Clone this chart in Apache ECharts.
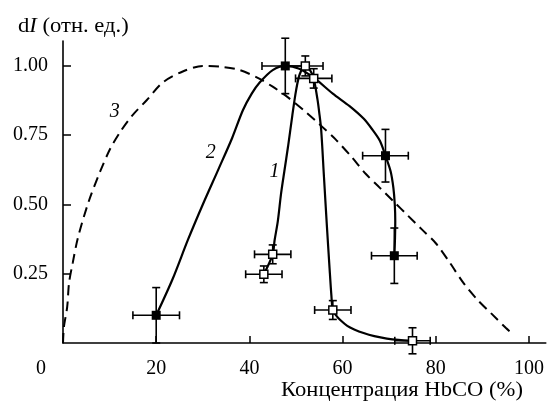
<!DOCTYPE html>
<html>
<head>
<meta charset="utf-8">
<script src="https://cdn.jsdelivr.net/npm/echarts@6/dist/echarts.min.js"></script>
<style>
  html, body { margin: 0; padding: 0; background: #fff; }
  #chart { width: 547px; height: 403px; }
</style>
</head>
<body>
<div id="chart"></div>
<script>
// Axis ticks
const xTicks = [0, 20, 40, 60, 80, 100];
const yTicks = [0.25, 0.5, 0.75, 1.0];

// Curve 1 (fit through open squares)
const curve1X = [43.1, 45.0, 45.4, 46.1, 46.8, 47.5, 48.3, 49.2, 50.0, 50.8, 52.0, 53.0, 53.8, 54.6, 55.0, 55.4, 56.0, 56.6, 57.2, 57.6, 57.9, 58.6, 59.5, 61.0, 62.5, 64.5, 66.8, 69.5, 72.0, 75.0];
const curve1Y = [0.248, 0.32, 0.37, 0.44, 0.54, 0.62, 0.71, 0.82, 0.91, 0.97, 1.0, 0.985, 0.955, 0.88, 0.83, 0.77, 0.6, 0.43, 0.27, 0.17, 0.119, 0.1, 0.083, 0.062, 0.049, 0.036, 0.025, 0.016, 0.011, 0.008];

// Curve 2 (fit through filled squares)
const curve2X = [20, 23.5, 26.8, 30, 33.3, 36.3, 38.6, 40.5, 42.2, 45, 47.7, 50.7, 54, 57.9, 61.5, 64.5, 66.4, 68, 69.2, 70.3, 70.9, 71.2, 71.3, 71.25, 71.1];
const curve2Y = [0.1, 0.23, 0.372, 0.5, 0.625, 0.74, 0.84, 0.9, 0.94, 0.985, 1.0, 0.99, 0.955, 0.9, 0.855, 0.81, 0.77, 0.73, 0.676, 0.62, 0.56, 0.5, 0.44, 0.38, 0.315];

// Curve 3 (dashed)
const curve3X = [0, 0.2, 0.9, 1.3, 2.1, 3.2, 5.5, 8, 10.1, 12.2, 14.8, 18, 21.4, 25.7, 30, 34, 38, 42, 45, 48, 52, 55, 58.5, 62, 65, 68, 71, 74, 77, 80, 83, 86, 89, 92, 95, 96];
const curve3Y = [0, 0.058, 0.13, 0.217, 0.29, 0.38, 0.51, 0.62, 0.70, 0.76, 0.82, 0.877, 0.94, 0.98, 1.0, 0.997, 0.985, 0.955, 0.925, 0.89, 0.835, 0.79, 0.735, 0.67, 0.61, 0.56, 0.51, 0.46, 0.41, 0.36, 0.29, 0.215, 0.155, 0.105, 0.055, 0.04];

// Measured points: filled squares
const filledX = [20, 47.7, 69.2, 71.1];
const filledY = [0.1, 1.0, 0.676, 0.315];
const filledXErr = [5, 5, 4.9, 4.9];
const filledYErr = [0.1, 0.1, 0.095, 0.1];

// Measured points: open squares
const openX = [43.1, 45.0, 52.0, 53.8, 57.9, 75.0];
const openY = [0.248, 0.32, 1.0, 0.955, 0.119, 0.008];
const openXErr = [3.9, 3.9, 3.8, 3.9, 3.9, 3.8];
const openYErr = [0.03, 0.034, 0.036, 0.035, 0.034, 0.047];

// Curve number labels
const curveNames = ['1', '2', '3'];
const curveNameX = [45.4, 31.7, 11.1];
const curveNameY = [0.617, 0.686, 0.834];

const FONT = '"Liberation Serif", "Times New Roman", serif';
const zip = (xs, ys) => xs.map((x, i) => [x, ys[i]]);

function errorBars(xs, ys, exs, eys) {
  return xs.map((x, i) => [x, ys[i], exs[i], eys[i]]);
}

function renderErr(params, api) {
  const x = api.value(0), y = api.value(1), ex = api.value(2), ey = api.value(3);
  const l = api.coord([x - ex, y]);
  const r = api.coord([x + ex, y]);
  const t = api.coord([x, y + ey]);
  const b = api.coord([x, y - ey]);
  const cap = 4;
  const style = { stroke: '#000', lineWidth: 1.6 };
  const line = (x1, y1, x2, y2) => ({ type: 'line', shape: { x1, y1, x2, y2 }, style });
  return {
    type: 'group',
    children: [
      line(l[0], l[1], r[0], r[1]),
      line(l[0], l[1] - cap, l[0], l[1] + cap),
      line(r[0], r[1] - cap, r[0], r[1] + cap),
      line(t[0], t[1], b[0], b[1]),
      line(t[0] - cap, t[1], t[0] + cap, t[1]),
      line(b[0] - cap, b[1], b[0] + cap, b[1])
    ]
  };
}

const chart = echarts.init(document.getElementById('chart'), null, { renderer: 'canvas' });

chart.setOption({
  animation: false,
  backgroundColor: '#fff',
  grid: { left: 63, right: 0, top: 41, bottom: 60, containLabel: false },
  xAxis: {
    type: 'value',
    min: 0,
    max: 103.6,
    axisLine: { show: true, onZero: false, lineStyle: { color: '#000', width: 1.6 } },
    axisTick: { show: true, inside: true, length: 7, customValues: xTicks.slice(1), lineStyle: { color: '#000', width: 1.5 } },
    axisLabel: {
      show: true,
      customValues: xTicks,
      margin: 16,
      color: '#000',
      fontFamily: FONT,
      fontSize: 20,
      formatter: v => (v === 0 ? '{z|0}' : String(v)),
      rich: { z: { fontFamily: FONT, fontSize: 20, color: '#000', padding: [0, 44, 0, 0] } }
    },
    splitLine: { show: false }
  },
  yAxis: {
    type: 'value',
    min: 0,
    max: 1.09,
    axisLine: { show: true, onZero: false, lineStyle: { color: '#000', width: 1.6 } },
    axisTick: { show: true, inside: true, length: 8, customValues: yTicks, lineStyle: { color: '#000', width: 1.5 } },
    axisLabel: {
      show: true,
      customValues: yTicks,
      margin: 15,
      color: '#000',
      fontFamily: FONT,
      fontSize: 20,
      formatter: v => v.toFixed(2)
    },
    splitLine: { show: false }
  },
  graphic: [
    {
      type: 'text',
      x: 18,
      y: 27,
      scaleX: 1.13,
      style: {
        text: '{a|d}{b|I}{a| (отн. ед.)}',
        textVerticalAlign: 'middle',
        rich: {
          a: { fontFamily: FONT, fontSize: 20, fill: '#000' },
          b: { fontFamily: FONT, fontSize: 20, fontStyle: 'italic', fill: '#000' }
        }
      }
    },
    {
      type: 'text',
      x: 402,
      y: 391,
      scaleX: 1.13,
      style: {
        text: 'Концентрация HbCO (%)',
        font: '20px ' + FONT,
        fill: '#000',
        textAlign: 'center',
        textVerticalAlign: 'middle'
      }
    }
  ],
  series: [
    {
      type: 'line',
      data: zip(curve3X, curve3Y),
      smooth: 0.3,
      showSymbol: false,
      symbol: 'none',
      lineStyle: { color: '#000', width: 2, type: [10, 6] },
      z: 2
    },
    {
      type: 'line',
      data: zip(curve2X, curve2Y),
      smooth: 0.3,
      symbol: 'none',
      lineStyle: { color: '#000', width: 2.2 },
      z: 3
    },
    {
      type: 'line',
      data: zip(curve1X, curve1Y),
      smooth: 0.3,
      symbol: 'none',
      lineStyle: { color: '#000', width: 2.2 },
      z: 3
    },
    {
      type: 'custom',
      renderItem: renderErr,
      data: errorBars(filledX, filledY, filledXErr, filledYErr),
      clip: false,
      z: 4
    },
    {
      type: 'custom',
      renderItem: renderErr,
      data: errorBars(openX, openY, openXErr, openYErr),
      clip: false,
      z: 4
    },
    {
      type: 'scatter',
      data: zip(filledX, filledY),
      symbol: 'rect',
      symbolSize: 9,
      itemStyle: { color: '#000', opacity: 1 },
      z: 5
    },
    {
      type: 'scatter',
      data: zip(openX, openY),
      symbol: 'rect',
      symbolSize: 8,
      itemStyle: { color: '#fff', borderColor: '#000', borderWidth: 1.5, opacity: 1 },
      z: 6
    },
    {
      type: 'scatter',
      data: curveNames.map((n, i) => ({ value: [curveNameX[i], curveNameY[i]], name: n })),
      symbolSize: 0,
      itemStyle: { opacity: 1 },
      label: {
        show: true,
        position: 'inside',
        formatter: p => p.name,
        fontFamily: FONT,
        fontSize: 20,
        fontStyle: 'italic',
        color: '#000'
      },
      z: 7
    }
  ]
});
</script>
</body>
</html>
